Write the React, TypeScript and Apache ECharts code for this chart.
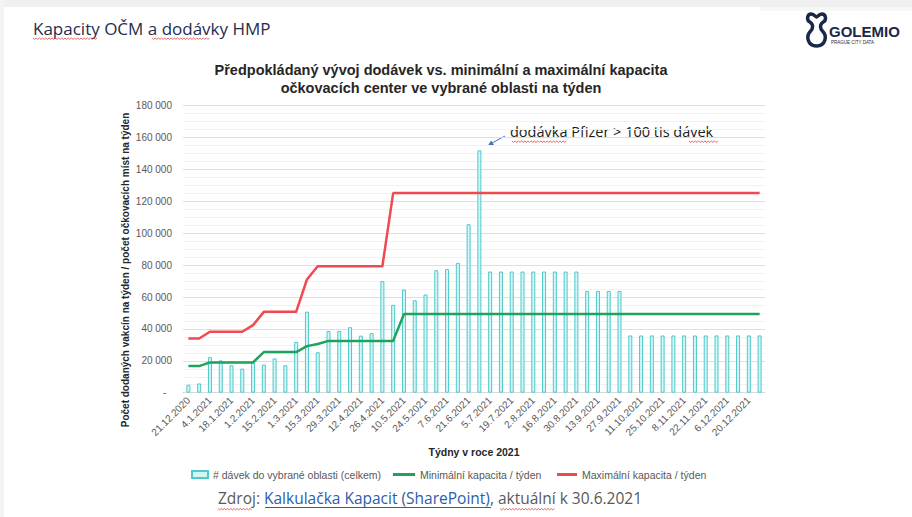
import React, { useEffect, useRef } from "react";
import * as echarts from "echarts";

const weeks = [
  "21.12.2020", "28.12.2020", "4.1.2021", "11.1.2021", "18.1.2021", "25.1.2021",
  "1.2.2021", "8.2.2021", "15.2.2021", "22.2.2021", "1.3.2021", "8.3.2021",
  "15.3.2021", "22.3.2021", "29.3.2021", "5.4.2021", "12.4.2021", "19.4.2021",
  "26.4.2021", "3.5.2021", "10.5.2021", "17.5.2021", "24.5.2021", "31.5.2021",
  "7.6.2021", "14.6.2021", "21.6.2021", "28.6.2021", "5.7.2021", "12.7.2021",
  "19.7.2021", "26.7.2021", "2.8.2021", "9.8.2021", "16.8.2021", "23.8.2021",
  "30.8.2021", "6.9.2021", "13.9.2021", "20.9.2021", "27.9.2021", "4.10.2021",
  "11.10.2021", "18.10.2021", "25.10.2021", "1.11.2021", "8.11.2021", "15.11.2021",
  "22.11.2021", "29.11.2021", "6.12.2021", "13.12.2021", "20.12.2021", "27.12.2021",
];

const doses = [
  5000, 5800, 22300, 20300, 17200, 15100, 19000, 17600, 21500, 17200,
  31800, 50800, 25400, 38700, 38700, 41100, 35800, 37400, 70000, 55100,
  64700, 58000, 61600, 76800, 77600, 81400, 105700, 152000,
  76000, 76000, 76000, 76000, 76000, 76000, 76000, 76000, 76000,
  63800, 63800, 63800, 63800,
  35900, 35900, 35900, 35900, 35900, 35900, 35900, 35900, 35900, 35900, 35900, 35900, 35900,
];

const minCapacity = [
  16700, 16700, 19000, 19000, 19000, 19000, 19000, 25500, 25500, 25500,
  25500, 29200, 30500, 32500, 32500, 32500, 32500, 32500, 32500, 32500,
  49300, 49300, 49300, 49300, 49300, 49300, 49300, 49300, 49300, 49300,
  49300, 49300, 49300, 49300, 49300, 49300, 49300, 49300, 49300, 49300,
  49300, 49300, 49300, 49300, 49300, 49300, 49300, 49300, 49300, 49300,
  49300, 49300, 49300, 49300,
];

const maxCapacity = [
  34000, 34000, 38200, 38200, 38200, 38200, 42400, 50700, 50700, 50700,
  50700, 71000, 79300, 79300, 79300, 79300, 79300, 79300, 79300,
  125200, 125200, 125200, 125200, 125200, 125200, 125200, 125200, 125200, 125200,
  125200, 125200, 125200, 125200, 125200, 125200, 125200, 125200, 125200, 125200,
  125200, 125200, 125200, 125200, 125200, 125200, 125200, 125200, 125200, 125200,
  125200, 125200, 125200, 125200, 125200,
];

const seriesNames = [
  "# dávek do vybrané oblasti (celkem)",
  "Minimální kapacita / týden",
  "Maximální kapacita / týden",
];

const LOGO_D =
  "M6 2 C2 2 1 8 5 10 C8 12 8 16 5 19 C1 23 2 33 11 33 C20 33 21 23 17 19 C14 16 14 12 17 10 C21 8 20 2 16 2 C13 2 12 5 11 5 C10 5 9 2 6 2 Z";

let registered = false;
function ensureShapes() {
  if (registered) return;
  echarts.graphic.registerShape("logo", echarts.graphic.extendPath(LOGO_D, {}));
  registered = true;
}

function squiggle(x1: number, x2: number, y: number) {
  const pts: number[][] = [];
  let up = true;
  for (let x = x1; x <= x2; x += 1.6) {
    pts.push([x, up ? y : y + 1.4]);
    up = !up;
  }
  return {
    type: "polyline",
    shape: { points: pts },
    style: { stroke: "#e0403a", lineWidth: 0.8, fill: "none" },
    silent: true,
  };
}

function fmt(v: number) {
  if (v === 0) return "-  ";
  const s = String(v);
  return s.replace(/\B(?=(\d{3})+(?!\d))/g, " ");
}

export default function App() {
  const ref = useRef<HTMLDivElement>(null);
  useEffect(() => {
    if (!ref.current) return;
    ensureShapes();
    const chart = echarts.init(ref.current, undefined, { renderer: "svg" });
    const font = "Liberation Sans, Arial, sans-serif";
    const legendText = { fontSize: 10.5, color: "#595959", fontFamily: font };
    const option: any = {
      animation: false,
      backgroundColor: "#ffffff",
      textStyle: { fontFamily: font },
      grid: { left: 183, right: 147, top: 105.7, bottom: 124.3, containLabel: false },
      legend: [
        {
          left: 191,
          top: 469,
          padding: 0,
          itemWidth: 16,
          itemHeight: 7,
          textStyle: legendText,
          data: [{ name: seriesNames[0], icon: "rect" }],
        },
        {
          left: 393,
          top: 469,
          padding: 0,
          itemWidth: 22,
          itemHeight: 3,
          textStyle: legendText,
          data: [{ name: seriesNames[1], icon: "rect" }],
        },
        {
          left: 557,
          top: 469,
          padding: 0,
          itemWidth: 20,
          itemHeight: 3,
          textStyle: legendText,
          data: [{ name: seriesNames[2], icon: "rect" }],
        },
      ],
      xAxis: {
        type: "category",
        data: weeks,
        boundaryGap: true,
        axisLine: { lineStyle: { color: "#d9d9d9" } },
        axisTick: { show: false },
        axisLabel: { interval: 1, rotate: 45, fontSize: 10, color: "#595959", margin: 6 },
        name: "Týdny v roce 2021",
        nameLocation: "middle",
        nameGap: 54,
        nameTextStyle: { fontWeight: "bold", fontSize: 10.5, color: "#262626" },
      },
      yAxis: {
        type: "value",
        min: 0,
        max: 180000,
        interval: 20000,
        axisLine: { show: false },
        axisTick: { show: false },
        axisLabel: { formatter: fmt, fontSize: 10, color: "#595959", margin: 11 },
        splitLine: { lineStyle: { color: "#dedede" } },
        minorTick: { show: false, splitNumber: 4 },
        minorSplitLine: { show: true, lineStyle: { color: "#f1f1f1" } },
      },
      series: [
        {
          name: seriesNames[0],
          type: "bar",
          data: doses,
          barWidth: 4,
          itemStyle: { color: "#d6f4f4", borderColor: "#4ccacc", borderWidth: 1 },
        },
        {
          name: seriesNames[1],
          type: "line",
          data: minCapacity,
          symbol: "none",
          lineStyle: { color: "#1fa25c", width: 2.5 },
          itemStyle: { color: "#1fa25c" },
        },
        {
          name: seriesNames[2],
          type: "line",
          data: maxCapacity,
          symbol: "none",
          lineStyle: { color: "#ef4a4f", width: 2.5 },
          itemStyle: { color: "#ef4a4f" },
        },
      ],
      graphic: [
        { type: "rect", shape: { x: 0, y: 0, width: 912, height: 7 }, style: { fill: "#f0f0f0" }, silent: true },
        { type: "rect", shape: { x: 0, y: 0, width: 4, height: 517 }, style: { fill: "#f3f3f3" }, silent: true },
        { type: "rect", shape: { x: 760, y: 7, width: 152, height: 4 }, style: { fill: "#f7f7f7" }, silent: true },
        {
          type: "text",
          x: 33,
          y: 28,
          style: {
            text: "Kapacity OČM a dodávky HMP",
            font: "17px 'Open Sans'",
            fill: "#1f2d4d",
            textVerticalAlign: "middle",
          },
        },
        squiggle(33, 97, 38),
        squiggle(152, 211, 38),
        {
          type: "logo",
          x: 805,
          y: 12,
          scaleX: 1.05,
          scaleY: 1.03,
          style: { fill: "none", stroke: "#1b2748", lineWidth: 3.3 },
        },
        {
          type: "text",
          x: 829,
          y: 31,
          style: {
            text: "GOLEMIO",
            font: "bold 15px 'Liberation Sans'",
            fill: "#1b2748",
            textVerticalAlign: "middle",
          },
        },
        {
          type: "text",
          x: 831,
          y: 42,
          style: {
            text: "PRAGUE CITY DATA",
            font: "4.5px 'Liberation Sans'",
            fill: "#1b2748",
            textVerticalAlign: "middle",
          },
        },
        {
          type: "text",
          x: 441,
          y: 79,
          style: {
            text: "Předpokládaný vývoj dodávek vs. minimální a maximální kapacita\nočkovacích center ve vybrané oblasti na týden",
            font: "bold 14.5px 'Liberation Sans'",
            fill: "#262626",
            textAlign: "center",
            textVerticalAlign: "middle",
            lineHeight: 18,
          },
        },
        {
          type: "text",
          x: 125,
          y: 270,
          rotation: Math.PI / 2,
          style: {
            text: "Počet dodaných vakcín na týden / počet očkovacích míst na týden",
            font: "bold 10px 'Liberation Sans'",
            fill: "#262626",
            textAlign: "center",
            textVerticalAlign: "middle",
          },
        },
        {
          type: "text",
          x: 510,
          y: 131,
          style: {
            text: "dodávka Pfizer > 100 tis dávek",
            font: "14.5px 'Open Sans'",
            fill: "#1a1a1a",
            textVerticalAlign: "middle",
          },
        },
        squiggle(512, 567, 141),
        squiggle(689, 718, 141),
        {
          type: "line",
          shape: { x1: 505, y1: 136, x2: 492, y2: 143 },
          style: { stroke: "#4472c4", lineWidth: 1 },
        },
        {
          type: "polygon",
          shape: { points: [[488, 145.5], [491, 140.5], [494, 145]] },
          style: { fill: "#4472c4" },
        },
        {
          type: "text",
          x: 218,
          y: 498,
          style: {
            text: "{g|Zdroj: }{l|Kalkulačka Kapacit (SharePoint)}{g|, aktuální k 30.6.2021}",
            textVerticalAlign: "middle",
            rich: {
              g: { fill: "#595959", fontSize: 15.5, fontFamily: "Open Sans" },
              l: { fill: "#2e5ca8", fontSize: 15.5, fontFamily: "Open Sans" },
            },
          },
        },
        {
          type: "line",
          shape: { x1: 265, y1: 507.5, x2: 491, y2: 507.5 },
          style: { stroke: "#2e5ca8", lineWidth: 1 },
        },
        squiggle(218, 252, 508.5),
        squiggle(500, 556, 508.5),
      ],
    };
    chart.setOption(option);
    return () => chart.dispose();
  }, []);
  return (
    <div
      ref={ref}
      style={{ position: "fixed", left: 0, top: 0, width: 912, height: 517 }}
    />
  );
}
